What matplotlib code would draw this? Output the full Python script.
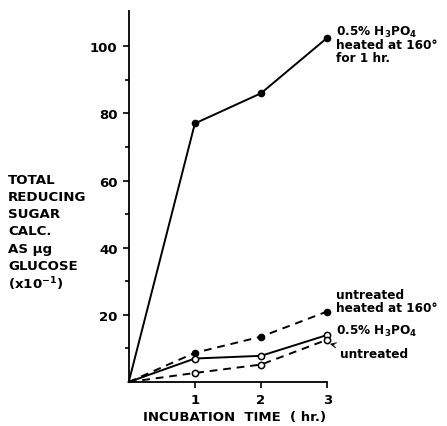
import matplotlib
matplotlib.use("Agg")
import matplotlib.pyplot as plt

plt.rcParams['font.family'] = ['DejaVu Sans']
plt.rcParams['font.weight'] = 'bold'
plt.rcParams['mathtext.fontset'] = 'dejavusans'
plt.rcParams['mathtext.default'] = 'bf'

# incubation time (hr.)
hours = [0, 1, 2, 3]
# reducing sugar, ug glucose (x10^-1)
acid_heated = [0, 77, 86, 102.5]
untreated_heated = [0, 8.7, 13.5, 21]
acid_only = [0, 7, 7.8, 14]
untreated = [0, 2.7, 5.2, 12.6]

yticks = [20, 40, 60, 80, 100]
xticks = [1, 2, 3]

fig = plt.figure(figsize=(4.47, 4.27), dpi=100)
ax = fig.add_axes([0.288, 0.103, 0.444, 0.869])

dot = dict(ms=4.5, clip_on=False, zorder=3)
ax.plot(hours, acid_heated, 'k-', lw=1.4, clip_on=False)
ax.plot(hours[1:], acid_heated[1:], 'ko', **dot)
ax.plot(hours, untreated_heated, 'k--', lw=1.4, dashes=(4, 3), clip_on=False)
ax.plot(hours[1:], untreated_heated[1:], 'ko', **dot)
ax.plot(hours, acid_only, 'k-', lw=1.4, clip_on=False)
ax.plot(hours[1:], acid_only[1:], 'o', mfc='white', mec='k', mew=1.1, **dot)
ax.plot(hours, untreated, 'k--', lw=1.4, dashes=(4, 3), clip_on=False)
ax.plot(hours[1:], untreated[1:], 'o', mfc='white', mec='k', mew=1.1, **dot)

ax.set_xlim(0, 3.0)
ax.set_ylim(0, 110.5)
for s in ['top', 'right']:
    ax.spines[s].set_visible(False)
for s in ['left', 'bottom']:
    ax.spines[s].set_linewidth(1.3)

ax.set_xticks(xticks)
ax.set_yticks(yticks)
ax.set_yticks([10, 30, 50, 70, 90], minor=True)
ax.tick_params(axis='both', which='major', length=4.5, width=1.2, labelsize=9.5)
ax.tick_params(axis='y', which='minor', length=3, width=1.2)
for lab in ax.get_xticklabels() + ax.get_yticklabels():
    lab.set_fontweight('bold')

ax.set_xlabel('INCUBATION  TIME  ( hr.)', fontsize=9.5, fontweight='bold')
ax.xaxis.set_label_coords(0.533, -0.075)

ylabel_lines = ['TOTAL', 'REDUCING', 'SUGAR', 'CALC.', 'AS μg', 'GLUCOSE', r'(x10$^{-1}$)']
for i, line in enumerate(ylabel_lines):
    fig.text(8 / 447, 1 - (180 + 17.3 * i) / 427, line, fontsize=9.6,
             fontweight='bold', va='center', ha='left')

acid_label = r'0.5% H$_3$PO$_4$'
kw = dict(fontsize=8.7, fontweight='bold', va='center', ha='left', clip_on=False)
ax.text(3.14, 104.5, acid_label, **kw)
ax.text(3.14, 100.6, 'heated at 160°', **kw)
ax.text(3.14, 96.7, 'for 1 hr.', **kw)
ax.text(3.14, 26.0, 'untreated', **kw)
ax.text(3.14, 22.1, 'heated at 160°', **kw)
ax.text(3.14, 15.5, acid_label, **kw)
ax.annotate('untreated', xy=(3.0, 11.5), xytext=(3.19, 8.6),
            fontsize=8.7, fontweight='bold', va='center', ha='left',
            arrowprops=dict(arrowstyle='->', lw=0.8, color='k',
                            shrinkA=2, shrinkB=2), annotation_clip=False)

fig.savefig('out.png', dpi=100)
